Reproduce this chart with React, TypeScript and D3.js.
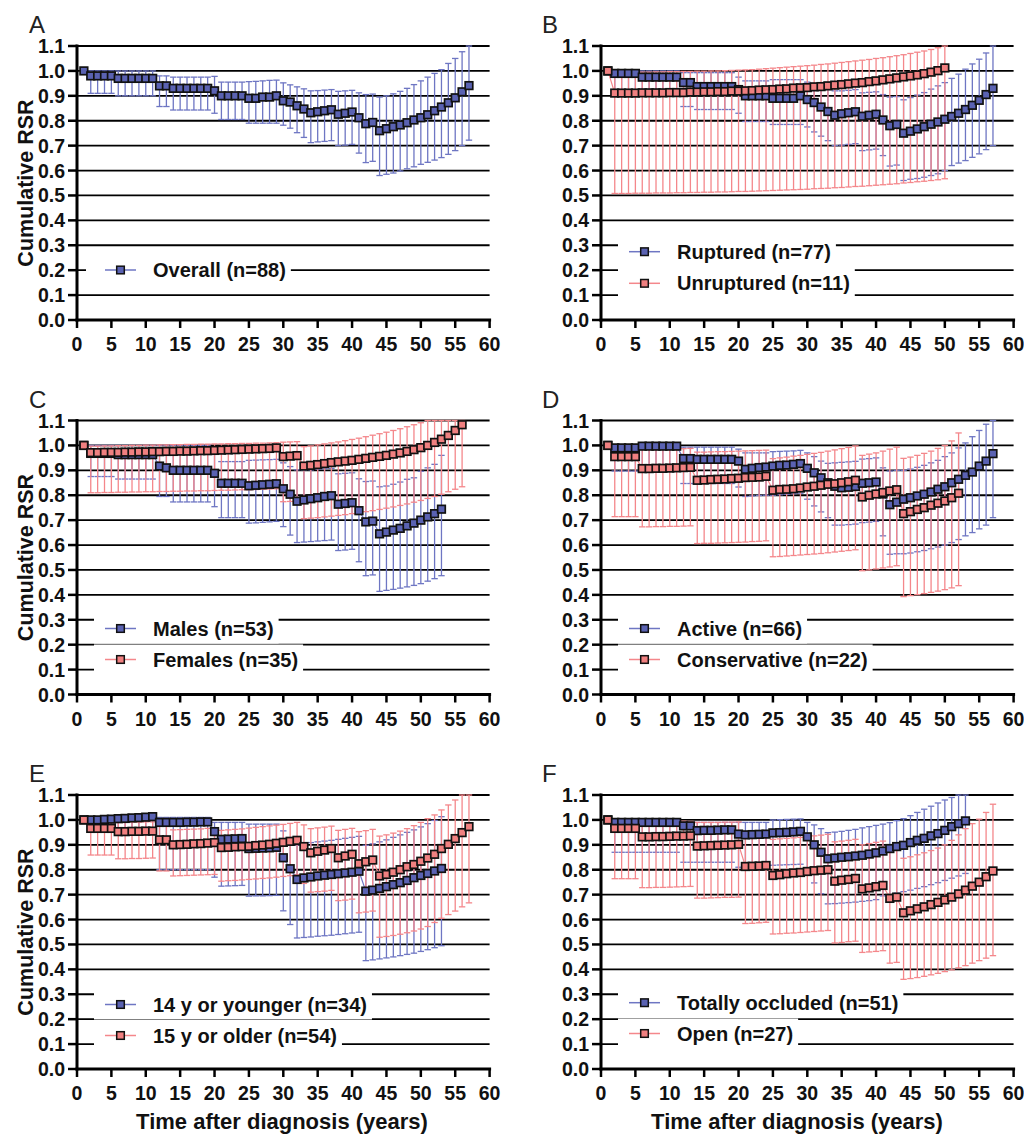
import React from "react";
import * as d3 from "d3";

// ---------- tick labels ----------
const xTickValues = [0, 5, 10, 15, 20, 25, 30, 35, 40, 45, 50, 55, 60];
const yTickValues = [0, 0.1, 0.2, 0.3, 0.4, 0.5, 0.6, 0.7, 0.8, 0.9, 1.0, 1.1];
const yAxisTitle = "Cumulative RSR";
const xAxisTitle = "Time after diagnosis (years)";

// ---------- Panel A : Overall (years 1..57) ----------
const overallVal = [1.00, 0.98,0.98,0.98,0.98, 0.97,0.97,0.97,0.97,0.97,0.97, 0.94,0.94, 0.93,0.93,0.93,0.93,0.93,0.93, 0.92, 0.90,0.90,0.90,0.90, 0.89,0.89,0.895,0.895, 0.90, 0.88, 0.875, 0.86, 0.847, 0.832, 0.836, 0.84, 0.844, 0.826, 0.83, 0.835, 0.812, 0.788, 0.793, 0.76, 0.768, 0.776, 0.783, 0.792, 0.803, 0.812, 0.824, 0.84, 0.855, 0.872, 0.892, 0.916, 0.941];
const overallLo = [1.0, 0.91,0.91,0.91,0.91, 0.90,0.90,0.90,0.90,0.90,0.90, 0.857,0.857, 0.843,0.843,0.843,0.843,0.843,0.843, 0.83, 0.805,0.805,0.805,0.805, 0.79,0.79,0.79,0.79,0.79, 0.782, 0.77, 0.752, 0.733, 0.712, 0.715, 0.717, 0.72, 0.70, 0.702, 0.705, 0.67, 0.632, 0.637, 0.58, 0.585, 0.59, 0.598, 0.607, 0.615, 0.625, 0.633, 0.642, 0.652, 0.665, 0.68, 0.70, 0.722];
const overallHi = [1.0, 1.0,1.0,1.0,1.0, 1.0,1.0,1.0,1.0,1.0,1.0, 0.98,0.98, 0.975,0.975,0.975,0.975,0.975,0.975, 0.978, 0.955,0.955,0.955,0.955, 0.957,0.958,0.96,0.962,0.963, 0.952, 0.944, 0.936, 0.928, 0.92, 0.921, 0.923, 0.925, 0.918, 0.92, 0.922, 0.912, 0.905, 0.907, 0.895, 0.90, 0.908, 0.918, 0.93, 0.945, 0.96, 0.975, 0.99, 1.005, 1.03, 1.05, 1.077, 1.10];

// ---------- Panel B ----------
const rupturedVal = [1.0, 0.99,0.99,0.99,0.99, 0.975,0.975,0.975,0.975,0.975,0.975, 0.953,0.953, 0.937,0.937,0.937,0.937,0.937,0.937, 0.925, 0.90,0.90,0.90,0.90, 0.89,0.89,0.89,0.89, 0.90, 0.885, 0.873, 0.855, 0.837, 0.822, 0.828, 0.832, 0.836, 0.818, 0.822, 0.826, 0.803, 0.78, 0.785, 0.75, 0.758, 0.767, 0.776, 0.786, 0.795, 0.806, 0.817, 0.83, 0.845, 0.862, 0.882, 0.905, 0.93];
const rupturedLo = [1.0, 0.905,0.905,0.905,0.905, 0.898,0.898,0.898,0.898,0.898,0.898, 0.857,0.857, 0.845,0.845,0.845,0.845,0.845,0.845, 0.83, 0.797,0.797,0.797,0.797, 0.785,0.785,0.785,0.785,0.785, 0.775, 0.755, 0.738, 0.72, 0.70, 0.702, 0.705, 0.708, 0.68, 0.683, 0.686, 0.66, 0.618, 0.622, 0.56, 0.565, 0.568, 0.573, 0.58, 0.587, 0.60, 0.62, 0.63, 0.64, 0.653, 0.667, 0.684, 0.70];
const rupturedHi = [1.0, 1.0,1.0,1.0,1.0, 1.0,1.0,1.0,1.0,1.0,1.0, 0.993,0.993, 0.993,0.993,0.993,0.993,0.993,0.993, 0.975, 0.96,0.96,0.96,0.96, 0.965,0.965,0.965,0.965,0.965, 0.955, 0.945, 0.933, 0.925, 0.92, 0.92, 0.922, 0.925, 0.912, 0.914, 0.916, 0.905, 0.895, 0.897, 0.884, 0.893, 0.903, 0.913, 0.927, 0.94, 0.953, 0.97, 0.987, 1.007, 1.028, 1.047, 1.072, 1.10];

const unrupturedVal = [1.0, 0.911,0.911,0.911,0.911, 0.912,0.912,0.912,0.912, 0.913,0.913,0.913, 0.915,0.915, 0.916,0.916, 0.917,0.917, 0.919,0.919, 0.92, 0.921, 0.923, 0.924, 0.925, 0.927, 0.928, 0.931, 0.932, 0.933, 0.936, 0.937, 0.94, 0.943, 0.945, 0.948, 0.951, 0.953, 0.957, 0.96, 0.964, 0.968, 0.972, 0.976, 0.98, 0.984, 0.989, 0.995, 1.001, 1.012];
const unrupturedLo = [1.0, 0.508,0.508,0.508,0.509,0.509,0.509,0.51,0.51,0.51,0.511,0.511,0.512,0.512,0.513,0.513,0.514,0.514,0.515,0.516,0.516,0.517,0.518,0.519,0.52,0.521,0.522,0.523,0.524,0.525,0.527,0.528,0.529,0.531,0.532,0.534,0.536,0.537,0.539,0.541,0.543,0.545,0.547,0.55,0.552,0.555,0.557,0.56,0.563,0.567];
const unrupturedHi = [1.0, 0.993,0.993,0.994,0.994,0.995,0.995,0.996,0.996,0.997,0.997,0.998,0.998,0.999,0.999,1.0,1.0,1.001,1.002,1.003,1.004,1.005,1.007,1.009,1.011,1.013,1.015,1.017,1.019,1.021,1.023,1.026,1.028,1.031,1.034,1.037,1.04,1.043,1.046,1.05,1.053,1.057,1.061,1.065,1.07,1.075,1.08,1.086,1.093,1.1];

// ---------- Panel C ----------
const malesVal = [1.0, 0.968,0.968,0.968,0.968, 0.963,0.963,0.963,0.963,0.963,0.963, 0.917, 0.91, 0.90,0.90,0.90,0.90,0.90,0.90, 0.888, 0.848,0.848,0.848,0.848, 0.838,0.84,0.842,0.844,0.846, 0.826, 0.804, 0.776, 0.781,0.786,0.79,0.795,0.798, 0.764,0.767,0.77, 0.738, 0.693,0.696, 0.645,0.652,0.66,0.667,0.677,0.688,0.70,0.713,0.726,0.744];
const malesLo = [1.0, 0.875,0.875,0.875,0.875, 0.865,0.865,0.865,0.865,0.865,0.865, 0.795,0.795, 0.773,0.773,0.773,0.773,0.773,0.773, 0.754, 0.71,0.71,0.71,0.71, 0.688,0.689,0.691,0.693,0.695, 0.674, 0.64, 0.61, 0.612,0.614,0.616,0.618,0.62, 0.578,0.58,0.583, 0.533, 0.477,0.48, 0.414,0.418,0.422,0.427,0.432,0.438,0.445,0.455,0.465,0.477];
const malesHi = [1.0, 1.0,1.0,1.0,1.0, 1.0,1.0,1.0,1.0,1.0,1.0, 1.0,1.0, 1.0,1.0,1.0,1.0,1.0,1.0, 0.99, 0.935,0.935,0.935,0.935, 0.94,0.941,0.942,0.943,0.944, 0.93, 0.915, 0.902, 0.90,0.902,0.904,0.906,0.908, 0.886,0.888,0.89, 0.866, 0.855,0.857, 0.834,0.837,0.844,0.853,0.864,0.87,0.896,0.91,0.924,0.96];

const femalesVal = [1.0, 0.971,0.971,0.972,0.972,0.972,0.973,0.973,0.974,0.974,0.975,0.975,0.976,0.976,0.977,0.977,0.978,0.979,0.979,0.98,0.981,0.982,0.983,0.984,0.985,0.986,0.987,0.988,0.99, 0.955,0.957,0.959, 0.917,0.92,0.923,0.927,0.931,0.934,0.937,0.94,0.944,0.948,0.952,0.956,0.96,0.965,0.97,0.976,0.983,0.991,1.0,1.012,1.025,1.04,1.06,1.083];
const femalesLo = [1.0, 0.81,0.81,0.811,0.811,0.812,0.812,0.813,0.813,0.814,0.814,0.815,0.815,0.816,0.816,0.817,0.817,0.818,0.818,0.819,0.82,0.82,0.821,0.822,0.822,0.823,0.824,0.825,0.826, 0.774,0.775,0.776, 0.706,0.708,0.71,0.713,0.716,0.719,0.722,0.726,0.73,0.734,0.738,0.743,0.748,0.753,0.759,0.765,0.772,0.779,0.787,0.795,0.804,0.814,0.824,0.834];
const femalesHi = [1.0, 0.997,0.997,0.998,0.998,0.999,0.999,1.0,1.0,1.001,1.001,1.002,1.002,1.003,1.003,1.004,1.004,1.005,1.005,1.006,1.006,1.007,1.007,1.008,1.008,1.009,1.009,1.01,1.011, 1.013,1.014,1.015, 0.995,0.998,1.002,1.006,1.01,1.014,1.019,1.024,1.029,1.035,1.041,1.047,1.053,1.06,1.067,1.075,1.083,1.091,1.1,1.1,1.1,1.1,1.1,1.1];

// ---------- Panel D ----------
const activeVal = [1.0, 0.99,0.99,0.99,0.99, 0.997,0.997,0.997,0.997,0.997,0.997, 0.947,0.947, 0.944,0.944,0.944,0.944,0.944,0.944, 0.937, 0.904,0.908,0.911,0.913, 0.917,0.92,0.921,0.924,0.927, 0.908, 0.89, 0.87, 0.85, 0.836, 0.83,0.832,0.835, 0.848,0.85,0.853, 0.805, 0.762,0.772, 0.784,0.79,0.797,0.804,0.813,0.824,0.834,0.85,0.864,0.88,0.893,0.917,0.937,0.967];
const activeLo = [1.0, 0.897,0.897,0.897,0.897, 0.905,0.905,0.905,0.905,0.905,0.905, 0.847,0.847, 0.847,0.847,0.847,0.847,0.847,0.847, 0.833, 0.795,0.797,0.799,0.80, 0.80,0.802,0.804,0.806,0.808, 0.784, 0.757, 0.733, 0.71, 0.68, 0.68,0.682,0.684, 0.69,0.692,0.695, 0.637, 0.563,0.565, 0.565,0.568,0.573,0.578,0.585,0.592,0.60,0.61,0.622,0.637,0.65,0.665,0.68,0.71];
const activeHi = [1.0, 1.0,1.0,1.0,1.0, 1.0,1.0,1.0,1.0,1.0,1.0, 0.993,0.993, 0.993,0.993,0.993,0.993,0.993,0.993, 0.985, 0.97,0.97,0.97,0.97, 0.975,0.976,0.977,0.978,0.98, 0.97, 0.955, 0.937, 0.928, 0.93, 0.932,0.934,0.936, 0.945,0.947,0.95, 0.91, 0.897,0.9, 0.9,0.905,0.912,0.92,0.93,0.94,0.955,0.97,0.99,1.01,1.035,1.06,1.085,1.1];

const conservativeVal = [1.0, 0.955,0.955,0.955,0.955, 0.907,0.907,0.908,0.908,0.909,0.91,0.911,0.912, 0.86,0.861,0.863,0.864,0.865,0.867,0.868,0.871,0.872,0.873,0.876, 0.82,0.823,0.824,0.826,0.829,0.833,0.836,0.84,0.844,0.846,0.85,0.854,0.86, 0.793,0.80,0.805,0.811,0.817,0.822, 0.726,0.734,0.743,0.75,0.76,0.768,0.777,0.79,0.808];
const conservativeLo = [1.0, 0.714,0.714,0.714,0.714, 0.673,0.673,0.674,0.674,0.675,0.675,0.676,0.677, 0.606,0.607,0.607,0.608,0.609,0.61,0.611,0.612,0.614,0.615,0.617, 0.553,0.554,0.556,0.558,0.56,0.562,0.564,0.566,0.569,0.572,0.575,0.578,0.581, 0.497,0.50,0.504,0.508,0.512,0.517, 0.393,0.397,0.401,0.405,0.41,0.415,0.421,0.428,0.437];
const conservativeHi = [1.0, 0.99,0.99,0.99,0.99, 0.985,0.985,0.985,0.986,0.986,0.987,0.987,0.988, 0.973,0.973,0.974,0.975,0.975,0.976,0.977,0.978,0.979,0.98,0.981, 0.947,0.95,0.953,0.957,0.96,0.964,0.968,0.972,0.977,0.982,0.987,0.992,0.998, 0.96,0.965,0.97,0.977,0.985,0.993, 0.948,0.953,0.96,0.968,0.977,0.988,1.0,1.018,1.05];

// ---------- Panel E ----------
const youngVal = [1.0, 1.0,1.0,1.002,1.003, 1.005,1.006,1.008,1.009,1.011,1.013, 0.99,0.99,0.99,0.99,0.991,0.991,0.992,0.992, 0.953, 0.922,0.923,0.924,0.925, 0.885,0.886,0.887,0.888,0.89, 0.848, 0.804, 0.761, 0.767,0.771,0.775,0.778,0.781,0.784,0.787,0.79,0.794, 0.714,0.718,0.725,0.732,0.74,0.748,0.757,0.768,0.777,0.785,0.795,0.805];
const youngLo = [1.0, 0.966,0.966,0.966,0.966, 0.953,0.953,0.953,0.953,0.953,0.953, 0.80,0.80,0.80,0.80,0.80,0.80,0.80,0.80, 0.77, 0.734,0.735,0.736,0.737, 0.694,0.695,0.695,0.696,0.697, 0.635, 0.58, 0.526, 0.528,0.53,0.533,0.535,0.537,0.54,0.543,0.546,0.549, 0.435,0.438,0.442,0.446,0.45,0.455,0.46,0.465,0.472,0.479,0.487,0.495];
const youngHi = [1.0, 1.0,1.0,1.002,1.003, 1.005,1.006,1.008,1.009,1.011,1.013, 1.01,1.01,1.01,1.01,1.01,1.01,1.01,1.01, 0.99, 0.99,0.99,0.99,0.99, 0.983,0.983,0.983,0.983,0.983, 0.956, 0.92, 0.9, 0.906,0.909,0.912,0.915,0.918,0.922,0.926,0.93,0.934, 0.898,0.904,0.912,0.92,0.93,0.94,0.95,0.96,0.972,0.985,0.998,1.013];

const olderVal = [1.0, 0.966,0.966,0.966,0.966, 0.953,0.953,0.954,0.954,0.955,0.955, 0.92,0.92, 0.90,0.901,0.902,0.904,0.905,0.907,0.909, 0.889,0.89,0.892,0.893,0.894,0.897,0.899,0.902,0.906,0.91,0.914,0.918, 0.893, 0.868,0.874,0.879,0.885, 0.848,0.855,0.862, 0.824,0.832,0.839, 0.775,0.781,0.79,0.80,0.812,0.821,0.834,0.847,0.862,0.885,0.902,0.925,0.949,0.973];
const olderLo = [1.0, 0.859,0.859,0.859,0.859, 0.844,0.844,0.845,0.845,0.846,0.847, 0.795,0.795, 0.775,0.776,0.777,0.778,0.779,0.78,0.781, 0.754,0.756,0.757,0.759,0.761,0.763,0.765,0.767,0.77,0.773,0.776,0.78, 0.745, 0.71,0.712,0.714,0.717, 0.676,0.678,0.682, 0.627,0.63,0.634, 0.529,0.532,0.536,0.541,0.547,0.554,0.562,0.572,0.588,0.605,0.62,0.634,0.651,0.667];
const olderHi = [1.0, 0.992,0.992,0.992,0.992, 0.99,0.99,0.991,0.991,0.992,0.992, 0.975,0.976, 0.96,0.961,0.962,0.963,0.964,0.966,0.968, 0.958,0.96,0.962,0.964,0.967,0.97,0.973,0.976,0.979,0.982,0.986,0.99, 0.98, 0.965,0.968,0.971,0.975, 0.958,0.962,0.966, 0.953,0.957,0.962, 0.935,0.94,0.947,0.955,0.965,0.977,0.99,1.005,1.02,1.04,1.06,1.08,1.1,1.1];

// ---------- Panel F ----------
const occludedVal = [1.0, 0.99,0.99,0.99,0.99, 0.99,0.99,0.99,0.99,0.99,0.99, 0.976,0.976, 0.957,0.958,0.958,0.959,0.96,0.96, 0.943, 0.94,0.941,0.942,0.943, 0.948,0.949,0.95,0.952,0.954, 0.932, 0.90, 0.87, 0.844,0.847,0.85,0.852,0.855,0.858,0.863,0.868,0.875,0.885,0.893,0.898,0.909,0.918,0.926,0.936,0.945,0.958,0.973,0.985,0.996];
const occludedLo = [1.0, 0.87,0.87,0.87,0.87, 0.87,0.87,0.87,0.87,0.87,0.87, 0.83,0.83, 0.83,0.83,0.83,0.83,0.83,0.83, 0.81, 0.805,0.805,0.805,0.805, 0.818,0.819,0.82,0.821,0.822, 0.80, 0.747, 0.704, 0.663,0.664,0.666,0.668,0.67,0.673,0.676,0.68, 0.695,0.70,0.706,0.712,0.718,0.725,0.732,0.74,0.748,0.757,0.766,0.775,0.785];
const occludedHi = [1.0, 1.0,1.0,1.0,1.0, 1.0,1.0,1.0,1.0,1.0,1.0, 0.99,0.99, 0.99,0.99,0.99,0.99,0.99,0.99, 0.99, 0.99,0.99,0.99,0.99, 1.0,1.001,1.002,1.003,1.004, 0.99, 0.98, 0.965, 0.949,0.951,0.954,0.958,0.962,0.968,0.973,0.978,0.983,0.989,0.997,1.005,1.017,1.03,1.043,1.055,1.068,1.08,1.09,1.1,1.1];

const openVal = [1.0, 0.966,0.966,0.966,0.966, 0.932,0.932,0.933,0.933,0.934,0.935,0.935,0.936, 0.895,0.896,0.897,0.898,0.899,0.90,0.902, 0.813,0.814,0.815,0.817, 0.777,0.78,0.784,0.787,0.789,0.793,0.796,0.798,0.80, 0.754,0.758,0.761,0.765, 0.723,0.727,0.732,0.737, 0.685,0.69, 0.627,0.635,0.643,0.651,0.66,0.669,0.679,0.69,0.703,0.718,0.734,0.75,0.772,0.795];
const openLo = [1.0, 0.764,0.764,0.764,0.764, 0.728,0.728,0.729,0.729,0.73,0.731,0.732,0.733, 0.686,0.686,0.687,0.688,0.689,0.689,0.69, 0.584,0.585,0.587,0.589, 0.542,0.543,0.545,0.546,0.548,0.55,0.552,0.554,0.556, 0.506,0.508,0.511,0.513, 0.468,0.47,0.472,0.475, 0.425,0.428, 0.36,0.363,0.367,0.372,0.378,0.384,0.391,0.398,0.406,0.415,0.425,0.435,0.445,0.455];
const openHi = [1.0, 1.0,1.0,1.0,1.0, 0.997,0.997,0.996,0.996,0.995,0.995,0.995,0.994, 0.99,0.99,0.99,0.99,0.991,0.991,0.992, 0.935,0.936,0.937,0.938, 0.922,0.924,0.926,0.928,0.93,0.933,0.936,0.939,0.942, 0.912,0.915,0.918,0.922, 0.90,0.905,0.91,0.915, 0.88,0.884, 0.846,0.852,0.86,0.868,0.877,0.887,0.90,0.918,0.94,0.965,0.985,1.003,1.03,1.063];

// ---------- styling ----------
const FONT = "'Liberation Sans', Arial, Helvetica, sans-serif";
const BLUE = { fill: "#5A62B2", bar: "#6E76C3" };
const PINK = { fill: "#F08080", bar: "#F4878B" };

type Series = { name: string; c: { fill: string; bar: string }; val: number[]; lo: number[]; hi: number[] };
type PanelDef = { letter: string; col: number; row: number; series: Series[]; legendRel: number[] };

const panels: PanelDef[] = [
  { letter: "A", col: 0, row: 0, legendRel: [50],
    series: [{ name: "Overall (n=88)", c: BLUE, val: overallVal, lo: overallLo, hi: overallHi }] },
  { letter: "B", col: 1, row: 0, legendRel: [68.3, 36.7],
    series: [
      { name: "Ruptured (n=77)", c: BLUE, val: rupturedVal, lo: rupturedLo, hi: rupturedHi },
      { name: "Unruptured (n=11)", c: PINK, val: unrupturedVal, lo: unrupturedLo, hi: unrupturedHi },
    ] },
  { letter: "C", col: 0, row: 1, legendRel: [66, 35],
    series: [
      { name: "Males (n=53)", c: BLUE, val: malesVal, lo: malesLo, hi: malesHi },
      { name: "Females (n=35)", c: PINK, val: femalesVal, lo: femalesLo, hi: femalesHi },
    ] },
  { letter: "D", col: 1, row: 1, legendRel: [66, 35],
    series: [
      { name: "Active (n=66)", c: BLUE, val: activeVal, lo: activeLo, hi: activeHi },
      { name: "Conservative (n=22)", c: PINK, val: conservativeVal, lo: conservativeLo, hi: conservativeHi },
    ] },
  { letter: "E", col: 0, row: 2, legendRel: [64.5, 33.5],
    series: [
      { name: "14 y or younger (n=34)", c: BLUE, val: youngVal, lo: youngLo, hi: youngHi },
      { name: "15 y or older (n=54)", c: PINK, val: olderVal, lo: olderLo, hi: olderHi },
    ] },
  { letter: "F", col: 1, row: 2, legendRel: [66.3, 35.5],
    series: [
      { name: "Totally occluded (n=51)", c: BLUE, val: occludedVal, lo: occludedLo, hi: occludedHi },
      { name: "Open (n=27)", c: PINK, val: openVal, lo: openLo, hi: openHi },
    ] },
];

let measureCtx: CanvasRenderingContext2D | null = null;
function textWidth(s: string, size: number) {
  if (!measureCtx) measureCtx = document.createElement("canvas").getContext("2d");
  if (!measureCtx) return s.length * size * 0.55;
  measureCtx.font = `bold ${size}px 'Liberation Sans', Arial, sans-serif`;
  return measureCtx.measureText(s).width;
}

const PLOT_W = 412.6;
const PLOT_H = 274;
const MS = 7.6; // marker side

function Panel({ p }: { p: PanelDef }) {
  const x0 = p.col === 0 ? 77 : 601;
  const top = 46 + p.row * 374.5;
  const bottom = top + PLOT_H;
  const x = d3.scaleLinear().domain([0, 60]).range([x0, x0 + PLOT_W]);
  const y = d3.scaleLinear().domain([0, 1.1]).range([bottom, top]);
  const clip = (v: number) => Math.min(1.1, v);
  const fmt = d3.format(".1f");
  const line = d3.line<number>().x((_, i) => x(i + 1)).y((v) => y(clip(v)));

  const legendSize = 20;
  return (
    <g>
      <text x={p.col === 0 ? 29 : 542} y={top - 13} fontFamily={FONT} fontSize={24} fill="#222">{p.letter}</text>
      {/* gridlines */}
      {yTickValues.filter((v) => v > 0).map((v) => (
        <line key={"g" + v} x1={x0} x2={x(60)} y1={y(v)} y2={y(v)} stroke="#000" strokeWidth={1.8} />
      ))}
      {/* legend backgrounds */}
      {p.series.map((s, i) => {
        const cy = bottom - p.legendRel[i];
        const w = textWidth(s.name, legendSize);
        const bx = x0 + (p.col === 0 && p.series.length === 1 ? 9 : 17);
        return <rect key={"lb" + i} x={bx} y={cy - 15} width={x0 + 76 + w + 5 - bx} height={30} fill="#fff" />;
      })}
      {/* error bars */}
      {p.series.map((s, si) => (
        <g key={"eb" + si} stroke={s.c.bar} strokeWidth={1.3} fill="none">
          {s.val.map((v, i) => {
            const cx = x(i + 1);
            const parts: any[] = [];
            const lo = s.lo[i];
            const hi = clip(s.hi[i]);
            if (lo < v - 0.0005) {
              parts.push(<line key={"l" + i} x1={cx} x2={cx} y1={y(v)} y2={y(lo)} />);
              parts.push(<line key={"lc" + i} x1={cx - 3.2} x2={cx + 3.2} y1={y(lo)} y2={y(lo)} />);
            }
            if (hi > clip(v) + 0.0005) {
              parts.push(<line key={"h" + i} x1={cx} x2={cx} y1={y(clip(v))} y2={y(hi)} />);
              parts.push(<line key={"hc" + i} x1={cx - 3.2} x2={cx + 3.2} y1={y(hi)} y2={y(hi)} />);
            }
            return parts;
          })}
        </g>
      ))}
      {/* connecting lines */}
      {p.series.map((s, si) => (
        <path key={"ln" + si} d={line(s.val) || ""} fill="none" stroke={s.c.bar} strokeWidth={1.2} />
      ))}
      {/* markers */}
      {p.series.map((s, si) => (
        <g key={"mk" + si}>
          {s.val.map((v, i) => (
            <rect key={i} x={x(i + 1) - MS / 2} y={y(clip(v)) - MS / 2} width={MS} height={MS}
              fill={s.c.fill} stroke="#111" strokeWidth={1.7} />
          ))}
        </g>
      ))}
      {/* legend symbols + text */}
      {p.series.map((s, i) => {
        const cy = bottom - p.legendRel[i];
        return (
          <g key={"lg" + i}>
            <line x1={x0 + 28} x2={x0 + 59} y1={cy} y2={cy} stroke={s.c.bar} strokeWidth={1.5} />
            <rect x={x0 + 43.5 - MS / 2} y={cy - MS / 2} width={MS} height={MS} fill={s.c.fill} stroke="#111" strokeWidth={1.5} />
            <text x={x0 + 76} y={cy + 7} fontFamily={FONT} fontWeight="bold" fontSize={legendSize} fill="#111">{s.name}</text>
          </g>
        );
      })}
      {/* y axis */}
      <line x1={x0} x2={x0} y1={top - 1.5} y2={bottom + 1.5} stroke="#000" strokeWidth={3} />
      {yTickValues.map((v) => (
        <g key={"yt" + v}>
          <line x1={x0 - 9} x2={x0} y1={y(v)} y2={y(v)} stroke="#000" strokeWidth={2.5} />
          <text x={x0 - 12} y={y(v) + 7} textAnchor="end" fontFamily={FONT} fontWeight="bold" fontSize={19.5} fill="#111">{fmt(v)}</text>
        </g>
      ))}
      {/* x axis */}
      <line x1={x0 - 1.5} x2={x(60) + 1.5} y1={bottom} y2={bottom} stroke="#000" strokeWidth={3} />
      {xTickValues.map((v) => (
        <g key={"xt" + v}>
          <line x1={x(v)} x2={x(v)} y1={bottom} y2={bottom + 8} stroke="#000" strokeWidth={2.5} />
          <text x={x(v)} y={bottom + 31} textAnchor="middle" fontFamily={FONT} fontWeight="bold" fontSize={19.5} fill="#111">{v}</text>
        </g>
      ))}
      {p.col === 0 && (
        <text transform={`translate(33,${(top + bottom) / 2}) rotate(-90)`} textAnchor="middle"
          fontFamily={FONT} fontWeight="bold" fontSize={21.5} fill="#111">{yAxisTitle}</text>
      )}
      {p.row === 2 && (
        <text x={p.col === 0 ? 282 : 797} y={bottom + 60} textAnchor="middle" fontFamily={FONT} fontWeight="bold" fontSize={22} fill="#111">{xAxisTitle}</text>
      )}
    </g>
  );
}

export default function App() {
  return (
    <svg width={1024} height={1136} style={{ position: "absolute", left: 0, top: 0, background: "#fff" }}>
      <rect width={1024} height={1136} fill="#fff" />
      {panels.map((p) => <Panel key={p.letter} p={p} />)}
    </svg>
  );
}
